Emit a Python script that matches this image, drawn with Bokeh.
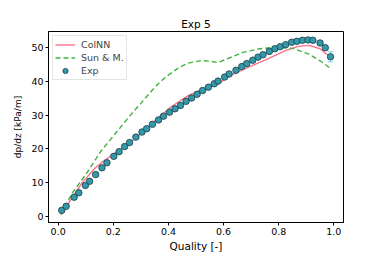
from bokeh.plotting import figure
from bokeh.models import Range1d, Legend, LegendItem, ColumnDataSource
from bokeh.embed import file_html
from bokeh.resources import INLINE

# --- data ---
exp_x = [0.013, 0.029, 0.058, 0.075, 0.099, 0.114, 0.136, 0.159, 0.177, 0.202,
         0.221, 0.241, 0.259, 0.282, 0.304, 0.321, 0.342, 0.364, 0.382, 0.404,
         0.424, 0.444, 0.464, 0.484, 0.504, 0.524, 0.545, 0.566, 0.580, 0.604,
         0.620, 0.645, 0.666, 0.684, 0.706, 0.725, 0.743, 0.766, 0.786, 0.805,
         0.825, 0.847, 0.866, 0.886, 0.906, 0.924, 0.950, 0.969, 0.988]
exp_y = [1.8, 3.0, 5.7, 7.0, 9.2, 10.4, 12.4, 14.4, 15.9, 17.8,
         19.2, 20.7, 21.9, 23.5, 25.0, 26.0, 27.3, 28.6, 29.7, 30.9,
         31.9, 32.9, 34.1, 35.1, 36.2, 37.3, 38.3, 39.3, 40.1, 41.3,
         42.2, 43.3, 44.4, 45.3, 46.3, 47.2, 47.9, 48.9, 49.7, 50.3,
         50.9, 51.6, 51.9, 52.2, 52.3, 52.2, 51.4, 50.0, 47.3]
exp_err = [0.4] * 48 + [1.5]

colnn_x = [0.01, 0.045, 0.088, 0.136, 0.16, 0.21, 0.25, 0.30, 0.35, 0.41, 0.47,
           0.52, 0.55, 0.58, 0.62, 0.68, 0.75, 0.82, 0.87, 0.91, 0.95, 0.985]
colnn_y = [0.5, 4.8, 10.1, 14.5, 16.1, 19.0, 21.1, 24.5, 28.3, 32.5, 35.7,
           37.6, 38.4, 39.2, 41.6, 43.9, 46.3, 49.0, 50.4, 50.7, 49.7, 47.3]

sun_x = [0.01, 0.05, 0.10, 0.155, 0.21, 0.26, 0.30, 0.34, 0.37, 0.40, 0.44,
         0.47, 0.52, 0.55, 0.58, 0.61, 0.67, 0.73, 0.79, 0.85, 0.91, 0.96, 0.99]
sun_y = [0.6, 6.8, 12.4, 19.3, 24.8, 29.8, 33.5, 37.3, 39.9, 41.9, 44.2,
         45.4, 46.2, 46.0, 45.6, 46.6, 48.6, 49.7, 50.1, 49.8, 48.1, 45.6, 43.7]

x_ticks = [0.0, 0.2, 0.4, 0.6, 0.8, 1.0]
y_ticks = [0, 10, 20, 30, 40, 50]

FONT = "DejaVu Sans"

p = figure(width=382, height=254, output_backend="svg", toolbar_location=None,
           x_range=Range1d(-0.035, 1.035), y_range=Range1d(-1.8, 54.8),
           min_border_left=48, min_border_right=39, min_border_top=31,
           min_border_bottom=32, title="Exp 5")
p.title.align = "center"
p.title.text_font = FONT
p.title.text_font_style = "normal"
p.title.text_font_size = "10.5px"
p.title.text_color = "black"
p.title.standoff = 3

p.outline_line_color = "black"
p.outline_line_width = 1
p.xgrid.visible = False
p.ygrid.visible = False
p.background_fill_color = "white"
p.border_fill_color = "white"

for ax in (p.xaxis[0], p.yaxis[0]):
    ax.major_label_text_font = FONT
    ax.major_label_text_font_size = "9.5px"
    ax.major_label_text_color = "black"
    ax.axis_line_color = "black"
    ax.major_tick_line_color = "black"
    ax.major_tick_out = 3
    ax.major_tick_in = 0
    ax.minor_tick_out = 0
    ax.minor_tick_in = 0
    ax.major_label_standoff = 2
    ax.axis_label_text_font = FONT
    ax.axis_label_text_font_style = "normal"
    ax.axis_label_text_color = "black"

p.xaxis.ticker = x_ticks
p.xaxis.major_label_overrides = {v: f"{v:.1f}" for v in x_ticks}
p.xaxis.axis_label = "Quality [-]"
p.xaxis.axis_label_text_font_size = "10.5px"
p.xaxis.axis_label_standoff = 2
p.yaxis.ticker = y_ticks
p.yaxis.axis_label = "dp/dz [kPa/m]"
p.yaxis.axis_label_text_font_size = "9px"
p.yaxis.axis_label_standoff = 5

src = ColumnDataSource(dict(x=exp_x, y=exp_y,
                            lo=[a - b for a, b in zip(exp_y, exp_err)],
                            hi=[a + b for a, b in zip(exp_y, exp_err)]))

r_col = p.line(colnn_x, colnn_y, line_color="#f77189", line_width=1.4)
r_sun = p.line(sun_x, sun_y, line_color="#3fb23f", line_width=1.4, line_dash="5 3")

r_err = p.segment(x0="x", y0="lo", x1="x", y1="hi", source=src, line_color="#86d0e6", line_width=1)
p.scatter(x="x", y="lo", source=src, marker="dash", size=6, line_color="#86d0e6", line_width=1)
p.scatter(x="x", y="hi", source=src, marker="dash", size=6, line_color="#86d0e6", line_width=1)
r_exp = p.scatter(x="x", y="y", source=src, marker="circle", size=6.5,
                  fill_color="#3399a9", line_color="#1e3d46", line_width=0.8)

legend = Legend(items=[LegendItem(label="ColNN", renderers=[r_col]),
                       LegendItem(label="Sun & M.", renderers=[r_sun]),
                       LegendItem(label="Exp", renderers=[r_exp])],
                location="top_left")
legend.label_text_font = FONT
legend.label_text_font_size = "9.5px"
legend.label_height = 13
legend.glyph_height = 13
legend.glyph_width = 20
legend.label_standoff = 6
legend.spacing = 0
legend.padding = 2
legend.margin = 4
legend.border_line_color = "#cccccc"
legend.border_line_width = 1
legend.background_fill_alpha = 0.8
p.add_layout(legend)

open("out.html", "w").write(file_html(p, INLINE))
